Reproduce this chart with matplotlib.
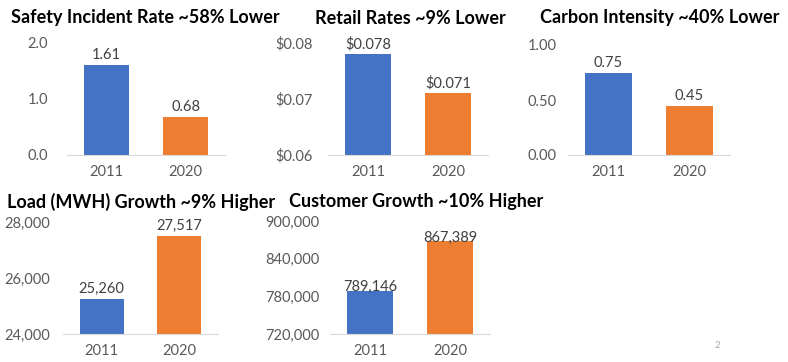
import matplotlib
matplotlib.use('Agg')
import matplotlib.pyplot as plt

W, H = 788, 362
BLUE = '#4472C4'
ORANGE = '#ED7D31'
FONT = 'Lato'

years = ['2011', '2020']
safety = [1.61, 0.68]
retail = [0.078, 0.071]
carbon = [0.75, 0.45]
load = [25260, 27517]
customers = [789146, 867389]

titles = ['Safety Incident Rate ~58% Lower', 'Retail Rates ~9% Lower',
          'Carbon Intensity ~40% Lower', 'Load (MWH) Growth ~9% Higher',
          'Customer Growth ~10% Higher']


def px_axes(fig, x0, x1, ytop, ybot):
    return fig.add_axes([x0 / W, (H - ybot) / H, (x1 - x0) / W, (ybot - ytop) / H])


def panel(fig, box, values, ylim, yticks, fmt, title, title_xy, ypad, label_pad=2, va='bottom'):
    ax = px_axes(fig, *box)
    ax.bar([0, 1], values, width=0.57, color=[BLUE, ORANGE], bottom=0)
    ax.set_xlim(-0.5, 1.5)
    ax.set_ylim(*ylim)
    ax.set_yticks(yticks)
    ax.set_yticklabels([fmt(v) for v in yticks])
    ax.set_xticks([0, 1])
    ax.set_xticklabels(years)
    for s in ['top', 'right', 'left']:
        ax.spines[s].set_visible(False)
    ax.spines['bottom'].set_color('#D9D9D9')
    ax.tick_params(length=0, labelsize=10.5, colors='#595959', pad=7)
    ax.tick_params(axis='y', pad=ypad * 0.72)
    for lbl in ax.get_xticklabels() + ax.get_yticklabels():
        lbl.set_fontfamily(FONT)
    for i, v in enumerate(values):
        ax.annotate(fmt(v, True), (i, v), xytext=(0, label_pad), textcoords='offset points',
                    ha='center', va=va, fontsize=10.5, color='#404040', fontfamily=FONT)
    fig.text(title_xy[0] / W, 1 - title_xy[1] / H, title, ha='center', va='center',
             fontsize=13, fontweight='bold', color='black', fontfamily=FONT)
    return ax


fig = plt.figure(figsize=(W / 100, H / 100), dpi=100)

panel(fig, (67, 225, 43, 155), safety, (0, 2), [0, 1, 2],
      lambda v, d=False: '%.2f' % v if d else '%.1f' % v, titles[0], (145, 18), 19)
panel(fig, (328, 488, 43, 155), retail, (0.06, 0.08), [0.06, 0.07, 0.08],
      lambda v, d=False: '$%.3f' % v if d else '$%.2f' % v, titles[1], (410, 18), 15)
panel(fig, (568, 730, 45, 155), carbon, (0, 1), [0, 0.5, 1.0],
      lambda v, d=False: '%.2f' % v, titles[2], (660, 18), 11)
panel(fig, (63, 218, 222, 334), load, (24000, 28000), [24000, 26000, 28000],
      lambda v, d=False: '{:,}'.format(int(v)), titles[3], (141, 202), 13)
panel(fig, (330, 490, 221, 334), customers, (720000, 900000), [720000, 780000, 840000, 900000],
      lambda v, d=False: '{:,}'.format(int(v)), titles[4], (416, 202), 11, 0, 'baseline')

fig.text(717 / W, 1 - 345 / H, '2', ha='center', va='center', fontsize=7, color='#A6A6A6',
         fontfamily=FONT)

fig.savefig('out.png', dpi=100)
